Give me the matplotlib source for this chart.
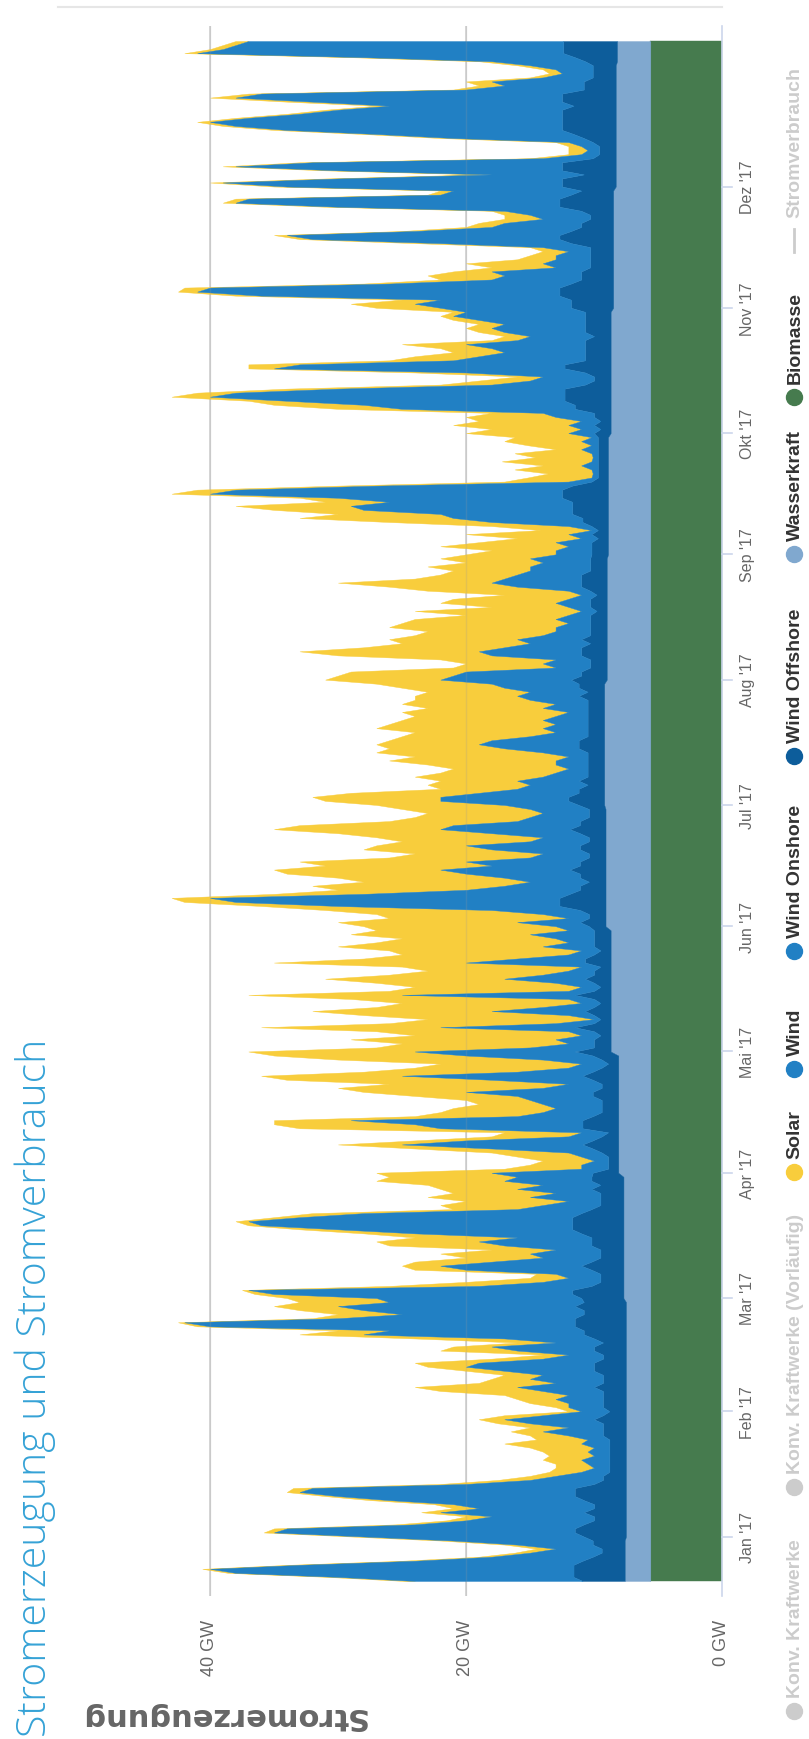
import numpy as np
import matplotlib.pyplot as plt
import matplotlib.dates as mdates
from matplotlib.lines import Line2D

plt.rcParams['font.family'] = ['Liberation Sans', 'DejaVu Sans']

# Tageswerte in GW vom 21.12.2016 bis 06.01.2018 (Solar: Tagesspitze)
biomasse = [
    5.6, 5.6, 5.6, 5.6, 5.6, 5.6, 5.6, 5.6, 5.6, 5.6, 5.6,
    # Jan
    5.6, 5.6, 5.6, 5.6, 5.6, 5.6, 5.6, 5.6, 5.6, 5.6, 5.6, 5.6, 5.6, 5.6, 5.6, 5.6,
    5.6, 5.6, 5.6, 5.6, 5.6, 5.6, 5.6, 5.6, 5.6, 5.6, 5.6, 5.6, 5.6, 5.6, 5.6,
    # Feb
    5.6, 5.6, 5.6, 5.6, 5.6, 5.6, 5.6, 5.6, 5.6, 5.6, 5.6, 5.6, 5.6, 5.6,
    5.6, 5.6, 5.6, 5.6, 5.6, 5.6, 5.6, 5.6, 5.6, 5.6, 5.6, 5.6, 5.6, 5.6,
    # Mar
    5.6, 5.6, 5.6, 5.6, 5.6, 5.6, 5.6, 5.6, 5.6, 5.6, 5.6, 5.6, 5.6, 5.6, 5.6, 5.6,
    5.6, 5.6, 5.6, 5.6, 5.6, 5.6, 5.6, 5.6, 5.6, 5.6, 5.6, 5.6, 5.6, 5.6, 5.6,
    # Apr
    5.6, 5.6, 5.6, 5.6, 5.6, 5.6, 5.6, 5.6, 5.6, 5.6, 5.6, 5.6, 5.6, 5.6, 5.6,
    5.6, 5.6, 5.6, 5.6, 5.6, 5.6, 5.6, 5.6, 5.6, 5.6, 5.6, 5.6, 5.6, 5.6, 5.6,
    # Mai
    5.6, 5.6, 5.6, 5.6, 5.6, 5.6, 5.6, 5.6, 5.6, 5.6, 5.6, 5.6, 5.6, 5.6, 5.6, 5.6,
    5.6, 5.6, 5.6, 5.6, 5.6, 5.6, 5.6, 5.6, 5.6, 5.6, 5.6, 5.6, 5.6, 5.6, 5.6,
    # Jun
    5.6, 5.6, 5.6, 5.6, 5.6, 5.6, 5.6, 5.6, 5.6, 5.6, 5.6, 5.6, 5.6, 5.6, 5.6,
    5.6, 5.6, 5.6, 5.6, 5.6, 5.6, 5.6, 5.6, 5.6, 5.6, 5.6, 5.6, 5.6, 5.6, 5.6,
    # Jul
    5.6, 5.6, 5.6, 5.6, 5.6, 5.6, 5.6, 5.6, 5.6, 5.6, 5.6, 5.6, 5.6, 5.6, 5.6, 5.6,
    5.6, 5.6, 5.6, 5.6, 5.6, 5.6, 5.6, 5.6, 5.6, 5.6, 5.6, 5.6, 5.6, 5.6, 5.6,
    # Aug
    5.6, 5.6, 5.6, 5.6, 5.6, 5.6, 5.6, 5.6, 5.6, 5.6, 5.6, 5.6, 5.6, 5.6, 5.6, 5.6,
    5.6, 5.6, 5.6, 5.6, 5.6, 5.6, 5.6, 5.6, 5.6, 5.6, 5.6, 5.6, 5.6, 5.6, 5.6,
    # Sep
    5.6, 5.6, 5.6, 5.6, 5.6, 5.6, 5.6, 5.6, 5.6, 5.6, 5.6, 5.6, 5.6, 5.6, 5.6,
    5.6, 5.6, 5.6, 5.6, 5.6, 5.6, 5.6, 5.6, 5.6, 5.6, 5.6, 5.6, 5.6, 5.6, 5.6,
    # Okt
    5.6, 5.6, 5.6, 5.6, 5.6, 5.6, 5.6, 5.6, 5.6, 5.6, 5.6, 5.6, 5.6, 5.6, 5.6, 5.6,
    5.6, 5.6, 5.6, 5.6, 5.6, 5.6, 5.6, 5.6, 5.6, 5.6, 5.6, 5.6, 5.6, 5.6, 5.6,
    # Nov
    5.6, 5.6, 5.6, 5.6, 5.6, 5.6, 5.6, 5.6, 5.6, 5.6, 5.6, 5.6, 5.6, 5.6, 5.6,
    5.6, 5.6, 5.6, 5.6, 5.6, 5.6, 5.6, 5.6, 5.6, 5.6, 5.6, 5.6, 5.6, 5.6, 5.6,
    # Dez
    5.6, 5.6, 5.6, 5.6, 5.6, 5.6, 5.6, 5.6, 5.6, 5.6, 5.6, 5.6, 5.6, 5.6, 5.6, 5.6,
    5.6, 5.6, 5.6, 5.6, 5.6, 5.6, 5.6, 5.6, 5.6, 5.6, 5.6, 5.6, 5.6, 5.6, 5.6,
    # Jan 18
    5.6, 5.6, 5.6, 5.6, 5.6, 5.6,
]

wasserkraft = [
    2.0, 2.0, 2.0, 2.0, 2.0, 2.0, 2.0, 2.0, 2.0, 2.0, 2.0,
    # Jan
    1.9, 1.9, 1.9, 1.9, 1.9, 1.9, 1.9, 1.9, 1.9, 1.9, 1.9, 1.9, 1.9, 1.9, 1.9, 1.9,
    1.9, 1.9, 1.9, 1.9, 1.9, 1.9, 1.9, 1.9, 1.9, 1.9, 1.9, 1.9, 1.9, 1.9, 1.9,
    # Feb
    1.9, 1.9, 1.9, 1.9, 1.9, 1.9, 1.9, 1.9, 1.9, 1.9, 1.9, 1.9, 1.9, 1.9,
    1.9, 1.9, 1.9, 1.9, 1.9, 1.9, 1.9, 1.9, 1.9, 1.9, 1.9, 1.9, 1.9, 1.9,
    # Mar
    2.1, 2.1, 2.1, 2.1, 2.1, 2.1, 2.1, 2.1, 2.1, 2.1, 2.1, 2.1, 2.1, 2.1, 2.1, 2.1,
    2.1, 2.1, 2.1, 2.1, 2.1, 2.1, 2.1, 2.1, 2.1, 2.1, 2.1, 2.1, 2.1, 2.1, 2.1,
    # Apr
    2.5, 2.5, 2.5, 2.5, 2.5, 2.5, 2.5, 2.5, 2.5, 2.5, 2.5, 2.5, 2.5, 2.5, 2.5,
    2.5, 2.5, 2.5, 2.5, 2.5, 2.5, 2.5, 2.5, 2.5, 2.5, 2.5, 2.5, 2.5, 2.5, 2.5,
    # Mai
    3.1, 3.1, 3.1, 3.1, 3.1, 3.1, 3.1, 3.1, 3.1, 3.1, 3.1, 3.1, 3.1, 3.1, 3.1, 3.1,
    3.1, 3.1, 3.1, 3.1, 3.1, 3.1, 3.1, 3.1, 3.1, 3.1, 3.1, 3.1, 3.1, 3.1, 3.1,
    # Jun
    3.5, 3.5, 3.5, 3.5, 3.5, 3.5, 3.5, 3.5, 3.5, 3.5, 3.5, 3.5, 3.5, 3.5, 3.5,
    3.5, 3.5, 3.5, 3.5, 3.5, 3.5, 3.5, 3.5, 3.5, 3.5, 3.5, 3.5, 3.5, 3.5, 3.5,
    # Jul
    3.6, 3.6, 3.6, 3.6, 3.6, 3.6, 3.6, 3.6, 3.6, 3.6, 3.6, 3.6, 3.6, 3.6, 3.6, 3.6,
    3.6, 3.6, 3.6, 3.6, 3.6, 3.6, 3.6, 3.6, 3.6, 3.6, 3.6, 3.6, 3.6, 3.6, 3.6,
    # Aug
    3.4, 3.4, 3.4, 3.4, 3.4, 3.4, 3.4, 3.4, 3.4, 3.4, 3.4, 3.4, 3.4, 3.4, 3.4, 3.4,
    3.4, 3.4, 3.4, 3.4, 3.4, 3.4, 3.4, 3.4, 3.4, 3.4, 3.4, 3.4, 3.4, 3.4, 3.4,
    # Sep
    3.3, 3.3, 3.3, 3.3, 3.3, 3.3, 3.3, 3.3, 3.3, 3.3, 3.3, 3.3, 3.3, 3.3, 3.3,
    3.3, 3.3, 3.3, 3.3, 3.3, 3.3, 3.3, 3.3, 3.3, 3.3, 3.3, 3.3, 3.3, 3.3, 3.3,
    # Okt
    3.1, 3.1, 3.1, 3.1, 3.1, 3.1, 3.1, 3.1, 3.1, 3.1, 3.1, 3.1, 3.1, 3.1, 3.1, 3.1,
    3.1, 3.1, 3.1, 3.1, 3.1, 3.1, 3.1, 3.1, 3.1, 3.1, 3.1, 3.1, 3.1, 3.1, 3.1,
    # Nov
    2.9, 2.9, 2.9, 2.9, 2.9, 2.9, 2.9, 2.9, 2.9, 2.9, 2.9, 2.9, 2.9, 2.9, 2.9,
    2.9, 2.9, 2.9, 2.9, 2.9, 2.9, 2.9, 2.9, 2.9, 2.9, 2.9, 2.9, 2.9, 2.9, 2.9,
    # Dez
    2.7, 2.7, 2.7, 2.7, 2.7, 2.7, 2.7, 2.7, 2.7, 2.7, 2.7, 2.7, 2.7, 2.7, 2.7, 2.7,
    2.7, 2.7, 2.7, 2.7, 2.7, 2.7, 2.7, 2.7, 2.7, 2.7, 2.7, 2.7, 2.7, 2.7, 2.7,
    # Jan 18
    2.6, 2.6, 2.6, 2.6, 2.6, 2.6,
]

wind_offshore = [
    3.3, 4.0, 4.0, 4.0, 4.0, 3.3, 2.5, 1.8, 1.8, 2.5, 2.5,
    # Jan
    3.3, 4.0, 4.0, 3.3, 2.5, 2.5, 3.3, 2.5, 2.5, 3.3,
    4.0, 4.0, 4.0, 2.5, 1.8, 1.8, 1.3, 1.3, 1.3, 1.3,
    1.3, 1.3, 1.3, 1.3, 1.3, 1.8, 1.8, 1.8, 1.8, 2.5, 1.8,
    # Feb
    1.3, 1.8, 1.8, 1.8, 1.8, 1.8, 2.5, 1.8, 1.8, 1.8,
    2.5, 2.5, 2.5, 1.8, 1.8, 2.5, 2.5, 1.8, 2.5, 3.3,
    3.3, 4.0, 4.0, 4.0, 3.3, 3.3, 4.0, 3.3,
    # Mar
    3.3, 4.0, 4.0, 2.5, 1.8, 1.8, 1.8, 2.5, 3.3, 2.5,
    1.8, 1.8, 1.8, 2.5, 2.5, 2.5, 3.3, 4.0, 4.0, 4.0,
    4.0, 3.3, 2.5, 1.8, 1.8, 1.8, 1.8, 2.5, 1.8, 2.5, 2.5,
    # Apr
    2.0, 0.8, 0.8, 0.8, 0.8, 1.3, 2.0, 2.8, 2.0, 1.3,
    0.8, 2.8, 2.8, 2.8, 2.0, 1.3, 1.3, 1.3, 1.3, 2.0,
    2.0, 1.3, 1.3, 2.0, 2.8, 2.0, 1.3, 0.8, 1.3, 2.0,
    # Mai
    2.8, 1.3, 1.3, 1.3, 0.8, 1.3, 2.8, 1.3, 0.8, 1.3,
    2.0, 1.3, 0.8, 1.3, 2.8, 1.3, 0.8, 1.3, 2.0, 1.3,
    1.3, 0.8, 2.0, 2.0, 1.3, 0.8, 1.3, 1.3, 1.3, 1.3, 1.3,
    # Jun
    1.3, 2.0, 1.3, 1.3, 2.0, 3.6, 3.6, 3.6, 2.8, 2.0,
    2.0, 1.3, 2.0, 2.0, 2.8, 2.0, 2.0, 1.3, 1.3, 2.0,
    2.0, 1.3, 1.3, 2.0, 2.8, 2.0, 2.0, 1.3, 1.3, 1.3,
    # Jul
    2.0, 2.8, 2.8, 2.0, 2.0, 1.3, 2.0, 1.3, 1.3, 1.3,
    1.3, 1.3, 1.3, 1.3, 2.0, 2.0, 2.0, 1.3, 1.3, 1.3,
    1.3, 1.3, 1.3, 1.3, 1.3, 1.3, 1.3, 2.0, 1.3, 2.0, 2.0,
    # Aug
    2.8, 2.0, 2.0, 1.3, 1.3, 1.3, 2.0, 2.0, 2.0, 1.3,
    2.0, 1.3, 1.3, 1.3, 1.3, 1.3, 1.3, 0.8, 1.3, 1.3,
    1.3, 0.8, 1.3, 2.0, 2.0, 2.0, 2.0, 1.3, 1.3, 1.3, 1.3,
    # Sep
    1.3, 1.3, 1.3, 1.3, 0.8, 1.3, 0.8, 1.3, 2.0, 2.0,
    2.8, 2.8, 2.8, 2.8, 3.6, 3.6, 3.6, 2.8, 1.3, 0.8,
    0.8, 0.8, 0.8, 0.8, 0.8, 0.8, 0.8, 0.8, 0.8, 0.8,
    # Okt
    1.3, 0.8, 1.3, 0.8, 1.3, 1.3, 2.8, 2.8, 3.6, 3.6,
    3.6, 3.6, 2.0, 1.3, 1.3, 2.0, 3.6, 3.6, 2.0, 2.0,
    2.0, 2.0, 2.0, 2.0, 1.3, 2.0, 2.0, 2.0, 2.0, 2.0, 2.0,
    # Nov
    3.3, 3.3, 3.3, 4.2, 4.2, 4.2, 3.3, 2.5, 2.5, 2.5,
    1.8, 1.8, 1.8, 1.8, 1.8, 1.8, 3.3, 4.2, 4.2, 3.3,
    2.5, 2.5, 1.8, 1.8, 2.5, 4.2, 4.2, 4.2, 3.3, 2.5,
    # Dez
    4.2, 4.2, 4.2, 2.5, 4.2, 4.2, 4.2, 1.8, 1.3, 1.3,
    1.3, 1.8, 2.5, 3.3, 4.2, 4.2, 4.2, 4.2, 4.2, 4.2,
    3.3, 4.2, 4.2, 4.2, 2.5, 2.5, 2.5, 1.8, 1.8, 1.8, 1.8,
    # Jan 18
    2.5, 3.3, 4.2, 4.2, 4.2, 4.2,
]

wind_onshore = [
    13.1, 18.4, 26.4, 28.4, 21.4, 13.1, 7.9, 5.6, 3.6, 5.9, 10.9,
    # Jan
    17.2, 23.5, 22.5, 13.2, 10.0, 8.0, 11.2, 9.0, 11.0, 15.2,
    18.5, 21.5, 20.5, 10.0, 5.7, 3.7, 2.2, 1.2, 1.7, 2.2,
    1.2, 1.7, 1.2, 2.2, 1.7, 2.7, 4.7, 2.7, 5.7, 7.0, 4.7,
    # Feb
    2.2, 2.7, 2.7, 3.7, 2.7, 4.7, 6.0, 3.7, 5.7, 4.7,
    7.0, 10.0, 9.0, 4.7, 2.7, 6.0, 8.0, 3.7, 7.0, 17.2,
    15.2, 28.5, 30.5, 18.5, 14.2, 17.2, 18.5, 15.2,
    # Mar
    16.0, 23.3, 25.3, 8.8, 4.5, 2.5, 3.5, 9.8, 11.0, 7.8,
    4.5, 5.5, 3.5, 6.8, 8.8, 5.8, 13.0, 18.3, 24.3, 25.3,
    21.3, 17.0, 5.8, 4.5, 2.5, 5.5, 3.5, 5.8, 4.5, 6.8, 5.8,
    # Apr
    7.9, 2.1, 2.1, 1.1, 2.1, 2.6, 7.9, 14.1, 9.9, 2.6,
    2.1, 11.1, 13.1, 18.1, 5.9, 4.6, 3.6, 4.6, 5.6, 5.9,
    9.9, 4.6, 2.6, 7.9, 14.1, 5.9, 2.6, 2.1, 4.6, 9.9,
    # Mai
    12.5, 5.0, 2.0, 3.0, 1.5, 2.0, 10.5, 3.0, 0.5, 2.0,
    7.3, 4.0, 1.5, 2.0, 13.5, 2.0, 1.5, 3.0, 6.3, 4.0,
    2.0, 1.5, 9.3, 5.3, 2.0, 1.5, 4.0, 2.0, 3.0, 5.0, 2.0,
    # Jun
    2.6, 4.9, 1.6, 3.6, 6.9, 17.3, 25.3, 27.3, 16.1, 8.9,
    5.9, 4.6, 5.9, 8.9, 10.1, 6.9, 8.9, 4.6, 3.6, 6.9,
    8.9, 4.6, 3.6, 6.9, 10.1, 9.9, 4.9, 4.6, 3.6, 4.6,
    # Jul
    5.8, 10.0, 10.0, 7.8, 4.8, 4.5, 4.8, 3.5, 2.5, 1.5,
    2.5, 2.5, 1.5, 3.5, 5.8, 7.8, 6.8, 4.5, 2.5, 3.5,
    2.5, 3.5, 2.5, 1.5, 3.5, 2.5, 4.5, 4.8, 4.5, 5.8, 6.8,
    # Aug
    10.2, 10.0, 9.0, 2.7, 3.7, 2.7, 7.0, 8.0, 6.0, 4.7,
    5.0, 3.7, 2.7, 2.7, 1.7, 2.7, 1.7, 1.2, 1.7, 2.7,
    1.7, 1.2, 1.7, 5.0, 7.0, 6.0, 5.0, 4.7, 4.7, 3.7, 4.7,
    # Sep
    2.8, 2.8, 1.8, 2.8, 1.3, 1.8, 0.5, 1.8, 7.1, 10.1,
    10.3, 16.3, 17.3, 14.3, 17.5, 27.5, 25.5, 15.3, 1.8, 0.5,
    0.4, 0.5, 1.3, 0.5, 0.4, 0.5, 1.3, 0.5, 1.3, 0.5,
    # Okt
    2.0, 1.5, 2.0, 1.5, 3.0, 4.0, 13.5, 16.5, 21.7, 27.7,
    25.7, 17.7, 7.3, 5.0, 4.0, 9.3, 22.7, 20.7, 10.3, 8.3,
    6.3, 7.3, 9.3, 5.3, 5.0, 6.3, 7.3, 6.3, 8.3, 10.3, 9.3,
    # Nov
    10.2, 12.2, 10.2, 23.3, 28.3, 27.3, 14.2, 7.0, 6.0, 7.0,
    2.7, 3.7, 2.7, 2.7, 1.7, 3.7, 10.2, 19.3, 21.3, 12.2,
    7.0, 6.0, 3.7, 4.7, 6.0, 17.3, 25.3, 24.3, 10.2, 10.0,
    # Dez
    21.5, 26.5, 17.5, 7.2, 17.5, 25.5, 19.5, 3.9, 1.4, 0.9,
    1.4, 1.9, 10.2, 15.4, 21.5, 25.5, 27.5, 24.5, 20.5, 17.5,
    14.4, 19.5, 25.5, 23.5, 9.2, 6.2, 7.2, 3.9, 2.4, 2.9, 4.9,
    # Jan 18
    7.3, 16.5, 28.6, 26.6, 25.6, 24.6,
]

solar = [
    0.8, 0.8, 0.6, 0.6, 0.8, 1.0, 1.0, 1.2, 1.5, 1.0, 1.0,
    # Jan
    1.0, 0.8, 1.0, 1.5, 1.5, 2.0, 1.5, 2.0, 1.5, 1.5,
    1.0, 1.0, 1.5, 2.0, 2.5, 2.0, 2.5, 3.0, 2.5, 3.0,
    3.5, 3.5, 5.0, 6.0, 4.0, 3.0, 2.5, 3.0, 2.5, 2.0, 3.0,
    # Feb
    1.0, 1.0, 3.0, 3.0, 5.0, 8.0, 8.0, 6.0, 3.0, 3.0,
    3.0, 3.0, 5.0, 4.0, 2.0, 6.0, 3.0, 3.0, 7.0, 5.0,
    4.0, 1.0, 0.5, 2.0, 5.0, 5.0, 5.0, 7.0,
    # Mar
    7.0, 1.5, 0.5, 7.0, 6.0, 3.0, 1.5, 4.0, 3.0, 6.0,
    6.0, 7.0, 5.0, 9.0, 8.0, 8.0, 4.0, 3.0, 1.0, 1.0,
    2.0, 4.0, 5.0, 8.0, 8.0, 8.0, 8.0, 6.0, 9.0, 10.0, 10.0,
    # Apr
    9.0, 6.0, 4.0, 4.0, 5.0, 6.0, 6.0, 5.0, 4.0, 6.0,
    6.0, 11.0, 11.0, 6.0, 8.0, 8.0, 8.0, 5.0, 5.0, 8.0,
    8.0, 16.0, 14.0, 16.0, 11.0, 12.0, 12.0, 11.0, 16.0, 15.0,
    # Mai
    13.0, 12.0, 13.0, 16.0, 13.0, 15.0, 14.0, 13.0, 13.0, 16.0,
    14.0, 13.0, 14.0, 17.0, 12.0, 14.0, 13.0, 14.0, 14.0, 12.0,
    11.0, 14.0, 15.0, 12.0, 13.0, 15.0, 16.0, 15.0, 12.0, 14.0, 15.0,
    # Jun
    15.0, 14.0, 14.0, 13.0, 13.0, 6.0, 4.0, 3.0, 7.0, 10.0,
    15.0, 13.0, 13.0, 14.0, 13.0, 13.0, 13.0, 11.0, 10.0, 10.0,
    7.0, 10.0, 13.0, 12.0, 13.0, 12.0, 10.0, 9.0, 9.0, 10.0,
    # Jul
    10.0, 9.0, 10.0, 10.0, 6.0, 8.0, 6.0, 10.0, 9.0, 9.0,
    10.0, 13.0, 12.0, 13.0, 9.0, 8.0, 8.0, 10.0, 11.0, 13.0,
    13.0, 11.0, 11.0, 13.0, 9.0, 12.0, 9.0, 8.0, 8.0, 8.0, 9.0,
    # Aug
    9.0, 9.0, 9.0, 8.0, 6.0, 9.0, 12.0, 14.0, 11.0, 10.0,
    10.0, 10.0, 10.0, 13.0, 13.0, 11.0, 8.0, 13.0, 6.0, 9.0,
    9.0, 6.0, 11.0, 10.0, 12.0, 7.0, 6.0, 6.0, 8.0, 6.0, 7.0,
    # Sep
    7.0, 5.0, 10.0, 6.0, 5.0, 8.0, 4.0, 6.0, 8.0, 12.0,
    8.0, 7.0, 9.0, 5.0, 3.0, 3.0, 3.0, 3.0, 5.0, 5.0,
    3.5, 6.0, 3.0, 7.0, 4.5, 6.0, 2.0, 5.0, 6.0, 6.0,
    # Okt
    8.0, 7.0, 9.0, 8.0, 7.0, 4.0, 5.0, 7.0, 3.0, 3.0,
    3.0, 4.0, 4.0, 4.0, 2.0, 4.0, 2.0, 4.0, 5.0, 5.0,
    4.0, 4.0, 5.0, 2.0, 2.0, 2.0, 2.0, 2.0, 2.0, 1.0, 1.0,
    # Nov
    5.0, 5.0, 3.0, 2.0, 1.5, 2.0, 2.0, 4.0, 6.0, 3.0,
    5.0, 6.0, 3.0, 2.0, 2.0, 1.0, 2.0, 1.0, 1.0, 1.0,
    2.0, 2.0, 3.0, 2.0, 1.0, 1.0, 1.0, 1.0, 1.0, 1.0,
    # Dez
    1.0, 1.0, 1.0, 1.0, 1.0, 1.0, 1.0, 1.0, 1.0, 1.5,
    1.0, 1.0, 1.0, 1.0, 1.0, 1.0, 1.0, 1.0, 1.0, 1.0,
    1.0, 2.0, 2.0, 1.0, 1.0, 2.0, 2.0, 1.0, 1.0, 1.0, 1.0,
    # Jan 18
    1.0, 1.0, 1.0, 1.0, 1.0, 1.0,
]

monate = ["Jan '17", "Feb '17", "Mar '17", "Apr '17", "Mai '17", "Jun '17",
          "Jul '17", "Aug '17", "Sep '17", "Okt '17", "Nov '17", "Dez '17"]
monatsanfang = ['2017-01-01', '2017-02-01', '2017-03-01', '2017-04-01',
                '2017-05-01', '2017-06-01', '2017-07-01', '2017-08-01',
                '2017-09-01', '2017-10-01', '2017-11-01', '2017-12-01']
gw_ticks = [0, 20, 40]

farben = {
    'Biomasse': '#467b4e',
    'Wasserkraft': '#80a8cf',
    'Wind Offshore': '#0d5d9b',
    'Wind Onshore': '#2180c4',
    'Solar': '#f8cd3c',
}

W, H = 809, 1740
fig = plt.figure(figsize=(W / 100, H / 100), dpi=100)


def fx(px):
    return px / W


def fy(py):
    return 1 - py / H


ax = fig.add_axes([fx(130), fy(1597), (722 - 130) / W, (1597 - 27) / H])
ax.set_axis_off()

n = len(wind_onshore)
t0 = mdates.date2num(np.datetime64('2016-12-21'))
t = t0 + np.arange(n)

lower = np.zeros(n)
for name, werte in [('Biomasse', biomasse), ('Wasserkraft', wasserkraft),
                    ('Wind Offshore', wind_offshore), ('Wind Onshore', wind_onshore),
                    ('Solar', solar)]:
    upper = lower + np.asarray(werte, float)
    ax.fill_betweenx(t, lower, upper, facecolor=farben[name], edgecolor=farben[name],
                     linewidth=0.3, zorder=2 if name != 'Solar' else 1.5)
    lower = upper

ax.set_xlim(46.25, 0)
ax.set_ylim(t0 - 3.72, t0 + n - 1 + 3.72)

# Gitterlinien: unter den Flaechen, leicht durchscheinend darueber
for v in gw_ticks[1:]:
    ax.axvline(v, color='#d4d4d4', lw=1.3, zorder=0)
    ax.axvline(v, color='#9a9a9a', lw=1.0, alpha=0.22, zorder=3)
ax.axvline(0, color='#ccd6eb', lw=1.2, zorder=3, clip_on=False)

for name, datum in zip(monate, monatsanfang):
    tm = mdates.date2num(np.datetime64(datum))
    ax.plot([0, -0.8], [tm, tm], color='#ccd6eb', lw=1.2, clip_on=False)
    ax.text(-2.0, tm, name, rotation=90, ha='center', va='center',
            fontsize=11.5, color='#666666')

for v in gw_ticks:
    ax.text(v, -23 / 1570, f'{v} GW', transform=ax.get_xaxis_transform(),
            rotation=90, ha='center', va='top', fontsize=13, color='#666666')

# Legende rechts (von unten nach oben)
legende = [
    ('Konv. Kraftwerke', '#cccccc', 1712, False),
    ('Konv. Kraftwerke (Vorläufig)', '#cccccc', 1488, False),
    ('Solar', farben['Solar'], 1173, True),
    ('Wind', '#2180c4', 1070, True),
    ('Wind Onshore', farben['Wind Onshore'], 952, True),
    ('Wind Offshore', farben['Wind Offshore'], 757, True),
    ('Wasserkraft', farben['Wasserkraft'], 555, True),
    ('Biomasse', farben['Biomasse'], 398, True),
]
for text, farbe, py, aktiv in legende:
    fig.add_artist(Line2D([fx(794)], [fy(py)], marker='o', markersize=11.5,
                          color=farbe, linestyle='none', transform=fig.transFigure))
    fig.text(fx(795), fy(py - 14), text, rotation=90, ha='center', va='bottom',
             fontsize=14, fontweight='bold',
             color='#333333' if aktiv else '#cccccc')
fig.add_artist(Line2D([fx(794), fx(794)], [fy(253), fy(230)], color='#cccccc',
                      lw=2, transform=fig.transFigure))
fig.text(fx(795), fy(218), 'Stromverbrauch', rotation=90, ha='center', va='bottom',
         fontsize=14, fontweight='bold', color='#cccccc')

fig.text(fx(35), fy(1737), 'Stromerzeugung und Stromverbrauch', rotation=90,
         ha='center', va='bottom', fontsize=29.5, color='#35a2d6',
         family=['Open Sans', 'DejaVu Sans'], fontweight='light')
fig.text(fx(222), fy(1717), 'Stromerzeugung', rotation=180, ha='center', va='center',
         fontsize=22, fontweight='bold', color='#666666', family=['DejaVu Sans'])

fig.add_artist(Line2D([fx(58), fx(722)], [fy(8), fy(8)], color='#e6e6e6', lw=1.5,
                      transform=fig.transFigure))

fig.savefig('out.png', dpi=100)
